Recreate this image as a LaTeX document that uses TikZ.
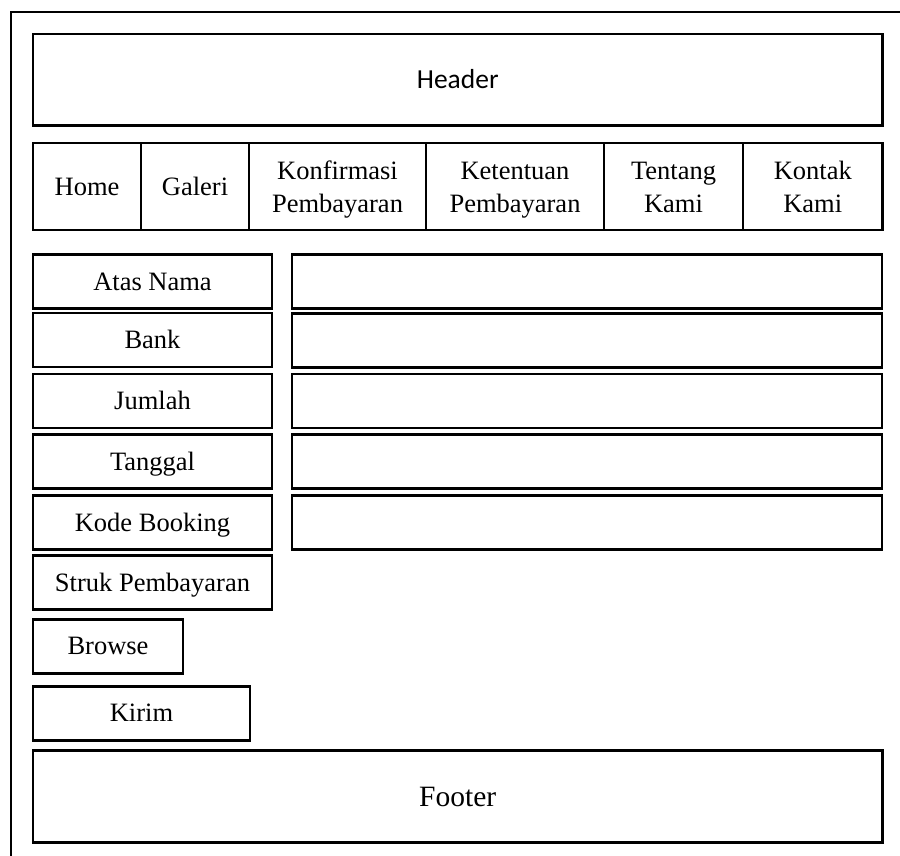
\documentclass[tikz,border=0pt]{standalone}
\usepackage{fontspec}
\setmainfont{Liberation Serif}
\newfontfamily\hdrfont{Carlito}
\newcommand\twoline[2]{\rule{0pt}{25.5pt}#1\\#2\rule[-6pt]{0pt}{6pt}}
\begin{document}
\begin{tikzpicture}[x=1pt,y=-1pt,
  box/.style={draw=black,line width=2.6pt,rectangle,inner sep=0pt,outer sep=0pt,anchor=north west,align=center,
    font=\fontsize{26.5}{33}\selectfont},
  oneline/.style={box,text height=17.5pt,text depth=0pt},
  frame/.style={draw=black,line width=2pt}]
\useasboundingbox (0,0) rectangle (900,855);
% outer frame (extends beyond the picture)
\coordinate (fbl) at (11,870);
\coordinate (ftl) at (11,12);
\coordinate (ftr) at (915,12);
\draw[frame] (fbl) -- (ftl) -- (ftr);
% header
\node[box,minimum width=849.5pt,minimum height=91.5pt,text height=17.7pt,text depth=0pt,
  font=\hdrfont\fontsize{27.5}{33}\selectfont] (header) at (33,34) {Header};
% navigation
\node[oneline,minimum width=108pt,minimum height=87pt] (home) at (33,143) {Home};
\node[oneline,minimum width=108pt,minimum height=87pt] (galeri) at (141,143) {Galeri};
\node[box,minimum width=177pt,minimum height=87pt] (konf) at (249,143) {\twoline{Konfirmasi}{Pembayaran}};
\node[box,minimum width=178pt,minimum height=87pt] (ket) at (426,143) {\twoline{Ketentuan}{Pembayaran}};
\node[box,minimum width=139pt,minimum height=87pt] (tentang) at (604,143) {\twoline{Tentang}{Kami}};
\node[box,minimum width=139.5pt,minimum height=87pt] (kontak) at (743,143) {\twoline{Kontak}{Kami}};
% labels
\node[oneline,minimum width=239pt,minimum height=54pt] (atas) at (33,254.5) {Atas Nama};
\node[oneline,minimum width=239pt,minimum height=54pt] (bank) at (33,313) {Bank};
\node[oneline,minimum width=239pt,minimum height=54pt] (jumlah) at (33,374) {Jumlah};
\node[oneline,minimum width=239pt,minimum height=54pt] (tanggal) at (33,434.5) {Tanggal};
\node[oneline,minimum width=239pt,minimum height=54pt] (kode) at (33,495.3) {Kode Booking};
\node[oneline,minimum width=239pt,minimum height=54pt] (struk) at (33,555.7) {Struk Pembayaran};
\node[oneline,minimum width=150pt,minimum height=54pt] (browse) at (33,619.2) {Browse};
\node[oneline,minimum width=217pt,minimum height=54pt] (kirim) at (33,686.2) {Kirim};
% input fields
\node[box,minimum width=590pt,minimum height=54pt] (fatas) at (292,254.5) {};
\node[box,minimum width=590pt,minimum height=54pt] (fbank) at (292,313.5) {};
\node[box,minimum width=590pt,minimum height=54pt] (fjumlah) at (292,374) {};
\node[box,minimum width=590pt,minimum height=54pt] (ftanggal) at (292,434.7) {};
\node[box,minimum width=590pt,minimum height=54pt] (fkode) at (292,495.5) {};
% footer
\node[box,minimum width=849.5pt,minimum height=92pt,text height=19.5pt,text depth=0pt,
  font=\fontsize{29.5}{35}\selectfont] (footer) at (33,750.5) {Footer};
\end{tikzpicture}
\end{document}
